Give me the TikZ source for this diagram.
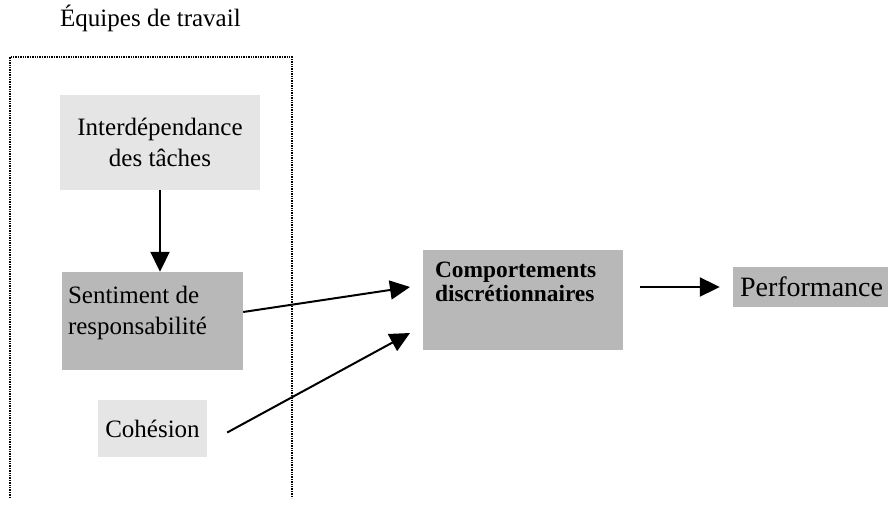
\documentclass[tikz,border=0pt]{standalone}
\usepackage{fontspec}
\setmainfont{Liberation Serif}
\usepackage{tikz}
\usetikzlibrary{calc,positioning,arrows.meta}
\definecolor{stiplight}{gray}{0.9}
\definecolor{stipdark}{gray}{0.72}

\begin{document}
\begin{tikzpicture}[x=1pt, y=-1pt,
  every node/.style={font=\fontsize{25}{31}\selectfont},
  lightbox/.style={rectangle, fill=stiplight, inner sep=0pt},
  darkbox/.style={rectangle, fill=stipdark, inner sep=0pt},
  arr/.style={-{Triangle[length=20pt, width=19pt]}, line width=2pt}]
  \useasboundingbox (0,0) rectangle (888,508);

  % Frame
  \node[anchor=base west, inner sep=0pt] (team) at (60,27) {Équipes de travail};
  \draw[densely dotted, line width=1.4pt] (10,498) -- (10,57) -- (292,57) -- (292,498);

  % Boxes
  \node[lightbox, minimum width=200pt, minimum height=95pt, align=center] (inter) at (160,142.5) {Interdépendance\\des tâches};
  \node[darkbox, inner xsep=6pt, inner ysep=14pt] (sent) at (152.5,321) {\parbox[c][70pt][t]{169pt}{\raggedright Sentiment de\\responsabilité}};
  \node[lightbox, minimum width=109pt, minimum height=57pt] (coh) at (152.5,428.5) {Cohésion};
  \node[darkbox, inner xsep=12pt, inner ysep=12pt] (comp) at (523,300) {\parbox[c][76pt][t]{176pt}{\fontsize{23.4}{24}\selectfont\raggedright\bfseries Comportements\\discrétionnaires}};
  \node[darkbox, minimum width=155pt, minimum height=40pt, inner xsep=7pt, align=left, text width=141pt, font=\fontsize{28}{30}\selectfont] (perf) at (810.5,287) {Performance};

  % Arrow ends
  \coordinate (tipA) at (410,287);
  \coordinate (tipB) at (410,333);

  % Arrows
  \draw[arr] (inter.south) -- (inter.south |- sent.north);
  \draw[arr] ([yshift=9pt]sent.east) -- (tipA);
  \draw[arr] ([xshift=20pt, yshift=-4pt]coh.east) -- (tipB);
  \draw[arr, shorten <=17pt, shorten >=13pt] ([yshift=13pt]comp.east) -- (perf.west);
\end{tikzpicture}
\end{document}
